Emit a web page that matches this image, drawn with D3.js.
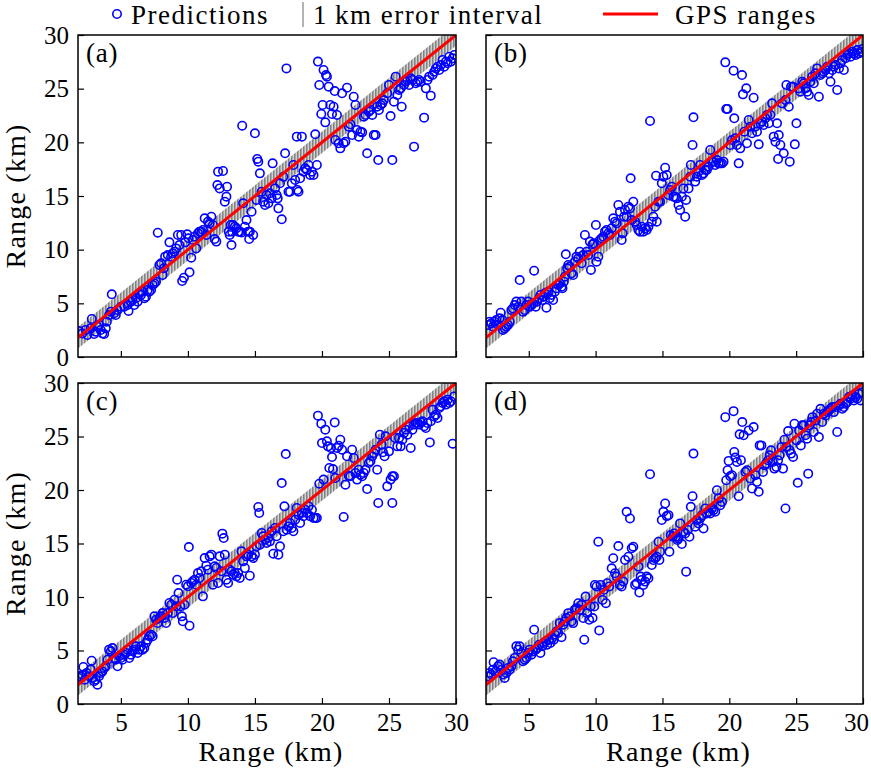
<!DOCTYPE html>
<html>
<head>
<meta charset="utf-8">
<script src="https://cdn.jsdelivr.net/npm/d3@7"></script>
<style>
  html, body { margin: 0; padding: 0; background: #fff; }
</style>
</head>
<body>
<svg id="chart" width="871" height="771"></svg>
<script>
// ---------------- data ----------------
const panelLabels = ["(a)", "(b)", "(c)", "(d)"];
const xTicks = [5, 10, 15, 20, 25, 30];
const yTicks = [0, 5, 10, 15, 20, 25, 30];
const xDomain = [1.8, 30];
const yDomain = [0, 30];
const errorHalfWidth = 1; // km
const axisLabel = "Range (km)";
const legendLabels = ["Predictions", "1\u2009km error interval", "GPS ranges"];

// [GPS range (km), predicted range (km)]
const predictionsA = [
[1.87,2.42],[2.12,2.2],[2.37,2.52],[2.5,2.05],[2.75,2.67],[2.83,3.54],[3.0,2.14],[3.12,2.36],[3.25,2.83],[3.37,2.98],
[3.5,2.52],[3.62,2.2],[3.75,2.14],[3.87,2.67],[3.95,3.29],[4.12,3.91],[4.25,4.22],[4.32,5.84],[4.5,4.07],[4.62,3.91],
[4.75,4.38],[5.0,4.69],[5.25,4.69],[5.5,4.84],[5.57,4.29],[5.75,5.16],[5.87,5.31],[6.0,4.84],[6.12,5.47],[6.25,5.16],
[6.37,5.93],[6.5,5.78],[6.62,6.09],[6.75,5.47],[6.87,5.62],[7.0,6.24],[7.12,6.09],[7.25,6.24],[7.37,6.71],[7.5,6.86],
[7.62,7.02],[7.75,11.58],[7.87,8.57],[8.0,8.73],[8.12,7.64],[8.2,8.26],[8.3,9.35],[8.5,9.5],[8.62,10.68],[8.75,9.35],
[8.87,9.66],[9.0,9.81],[9.12,10.12],[9.25,11.37],[9.37,10.43],[9.5,11.37],[9.57,7.08],[9.7,7.39],[9.8,10.68],[9.95,11.43],
[10.05,11.06],[10.12,7.89],[10.25,9.25],[10.37,10.9],[10.5,11.21],[10.62,10.12],[10.75,11.52],[10.87,11.68],[11.0,11.68],[11.12,11.83],
[11.25,12.92],[11.37,11.37],[11.5,12.61],[11.62,12.45],[11.75,13.07],[11.87,12.3],[12.0,10.99],[12.12,10.75],[12.2,16.02],[12.25,17.27],
[12.37,15.71],[12.62,17.33],[12.75,14.47],[12.87,14.94],[12.92,15.87],[13.05,11.68],[13.12,11.37],[13.2,12.3],[13.25,10.43],[13.3,11.68],
[13.37,12.3],[13.5,12.14],[13.62,11.99],[13.75,11.68],[13.87,11.68],[14.0,11.61],[14.05,21.55],[14.12,14.32],[14.25,12.14],[14.37,12.76],
[14.5,11.68],[14.57,10.99],[14.62,11.68],[14.75,13.54],[14.87,11.37],[15.0,20.84],[15.12,14.63],[15.17,18.45],[15.25,18.2],[15.37,17.11],
[15.5,15.4],[15.62,14.47],[15.75,14.16],[15.87,15.09],[16.0,14.32],[16.12,15.25],[16.25,14.78],[16.32,18.04],[16.5,15.71],[16.62,15.09],
[16.7,14.78],[16.75,13.85],[16.87,16.18],[17.0,12.83],[17.12,16.8],[17.25,18.98],[17.35,26.89],[17.5,15.4],[17.62,15.4],[17.75,16.18],
[17.87,17.89],[18.0,16.49],[18.12,20.53],[18.17,15.56],[18.25,15.4],[18.37,16.65],[18.5,20.53],[18.62,17.27],[18.75,17.58],[18.87,17.42],
[19.0,17.89],[19.12,16.96],[19.25,17.27],[19.37,16.96],[19.5,20.75],[19.62,17.89],[19.7,27.52],[19.8,25.34],[19.95,22.64],[20.05,23.48],
[20.12,26.74],[20.25,21.86],[20.3,26.27],[20.37,26.12],[20.5,25.19],[20.62,23.48],[20.75,22.64],[20.87,23.32],[20.95,24.78],[21.0,20.22],
[21.12,22.55],[21.25,19.91],[21.37,19.44],[21.5,24.57],[21.62,19.91],[21.75,20.06],[21.87,25.09],[22.0,21.46],[22.12,21.68],[22.25,20.68],
[22.37,24.25],[22.5,23.48],[22.62,21.15],[22.75,20.53],[22.87,20.99],[23.0,20.93],[23.12,22.39],[23.25,22.55],[23.37,18.98],[23.5,22.86],
[23.62,23.01],[23.75,22.55],[23.87,20.68],[24.0,20.68],[24.12,23.32],[24.2,18.35],[24.25,23.01],[24.37,23.48],[24.5,23.63],[24.62,23.94],
[24.87,24.57],[25.0,25.34],[25.12,22.45],[25.25,18.35],[25.37,23.79],[25.5,26.12],[25.62,24.41],[25.75,24.88],[25.87,25.03],[25.95,23.32],
[26.12,25.34],[26.25,25.65],[26.37,25.81],[26.5,25.34],[26.62,25.96],[26.75,25.81],[26.87,19.6],[27.0,25.5],[27.12,25.65],[27.25,25.81],
[27.37,25.65],[27.62,22.3],[27.75,25.03],[27.87,25.81],[28.0,26.12],[28.12,24.35],[28.25,26.27],[28.37,26.58],[28.5,26.89],[28.62,27.05],
[28.75,26.74],[28.87,27.2],[29.0,27.67],[29.12,27.05],[29.25,27.52],[29.37,27.36],[29.5,27.98],[29.62,27.52],[29.75,27.83],[29.87,28.14]
];

const predictionsB = [
[1.95,2.98],[2.07,3.29],[2.2,3.14],[2.32,2.83],[2.45,3.29],[2.57,3.45],[2.7,2.98],[2.82,3.6],[2.9,4.13],[3.02,3.45],
[3.07,2.52],[3.2,2.67],[3.32,2.83],[3.45,2.98],[3.57,3.29],[3.7,4.38],[3.82,4.53],[3.95,4.84],[4.07,5.16],[4.2,4.69],
[4.32,7.17],[4.45,5.16],[4.57,4.22],[4.7,4.38],[4.82,4.84],[4.95,5.16],[5.07,4.69],[5.2,4.84],[5.32,5.0],[5.4,8.04],
[5.52,4.69],[5.62,5.16],[5.77,5.47],[5.87,5.78],[6.02,5.31],[6.12,5.62],[6.2,5.93],[6.32,4.6],[6.45,6.09],[6.57,5.47],
[6.7,5.78],[6.82,5.31],[6.95,6.09],[7.07,6.4],[7.2,6.71],[7.32,6.86],[7.45,6.55],[7.52,6.4],[7.62,7.02],[7.7,7.48],
[7.77,9.57],[7.87,8.26],[7.95,8.57],[8.07,8.42],[8.2,7.8],[8.32,7.64],[8.45,8.88],[8.57,9.35],[8.7,9.19],[8.82,9.81],
[8.95,8.73],[9.07,9.5],[9.2,11.37],[9.32,9.81],[9.45,9.5],[9.57,10.75],[9.65,8.11],[9.77,10.5],[9.87,10.59],[10.02,12.3],
[10.07,8.88],[10.2,9.35],[10.32,10.9],[10.45,11.06],[10.57,11.21],[10.7,11.68],[10.82,11.83],[10.95,11.52],[11.07,11.37],[11.2,11.99],
[11.32,12.92],[11.45,12.61],[11.57,12.45],[11.7,14.16],[11.82,13.54],[11.95,10.9],[12.02,11.52],[12.12,13.07],[12.2,13.7],[12.32,13.07],
[12.45,14.01],[12.57,13.85],[12.62,16.65],[12.7,12.76],[12.82,14.47],[12.95,12.61],[13.07,12.3],[13.2,11.83],[13.32,11.68],[13.45,12.14],
[13.57,11.68],[13.7,11.99],[13.82,11.83],[13.95,12.14],[14.07,21.99],[14.2,12.61],[14.32,13.07],[14.45,14.01],[14.52,16.89],[14.57,12.61],
[14.7,14.47],[14.82,14.47],[14.95,16.18],[15.07,16.8],[15.2,17.64],[15.32,16.96],[15.45,15.09],[15.57,15.56],[15.7,15.87],[15.82,14.94],
[15.95,14.94],[16.07,14.78],[16.2,14.16],[16.32,13.7],[16.45,14.94],[16.57,15.71],[16.7,13.07],[16.77,14.63],[16.95,15.71],[17.07,16.8],
[17.12,17.89],[17.25,19.75],[17.32,22.33],[17.45,16.34],[17.57,16.8],[17.7,17.27],[17.82,17.89],[17.95,16.96],[18.07,17.11],[18.2,17.42],
[18.32,17.42],[18.45,17.73],[18.57,19.29],[18.7,18.2],[18.82,18.2],[18.95,17.89],[19.07,18.35],[19.2,18.04],[19.32,18.04],[19.45,18.04],
[19.57,18.2],[19.7,27.45],[19.77,23.11],[19.87,23.11],[20.07,19.75],[20.2,20.22],[20.32,26.68],[20.37,22.24],[20.45,20.37],[20.57,19.75],
[20.7,18.04],[20.82,19.44],[20.95,26.27],[21.02,24.47],[21.12,20.99],[21.27,25.03],[21.32,19.91],[21.45,22.08],[21.57,21.46],[21.7,20.84],
[21.82,24.16],[21.95,21.46],[22.07,20.99],[22.2,19.81],[22.32,21.77],[22.45,21.93],[22.57,21.61],[22.7,22.24],[22.82,22.55],[22.95,21.77],
[23.07,22.55],[23.2,23.63],[23.32,20.53],[23.45,20.06],[23.57,21.77],[23.65,18.45],[23.7,20.68],[23.82,19.75],[23.95,23.63],[24.07,18.98],
[24.2,23.94],[24.27,25.34],[24.45,23.32],[24.52,18.2],[24.62,25.19],[24.77,25.19],[24.9,19.81],[25.02,21.77],[25.2,25.03],[25.32,24.72],
[25.45,25.65],[25.57,25.5],[25.7,25.03],[25.82,24.72],[25.95,24.41],[26.07,25.65],[26.2,26.12],[26.32,25.5],[26.45,26.43],[26.57,26.89],
[26.7,24.25],[26.82,26.27],[26.95,26.43],[27.07,26.58],[27.2,26.74],[27.32,27.05],[27.45,26.43],[27.57,25.65],[27.7,26.74],[27.82,27.05],
[27.95,27.2],[28.07,24.88],[28.2,26.89],[28.32,27.36],[28.45,27.67],[28.57,26.74],[28.7,27.83],[28.82,28.14],[28.95,28.29],[29.07,27.98],
[29.2,28.45],[29.32,28.29],[29.45,28.14],[29.57,28.6],[29.7,28.29],[29.82,28.45],[29.95,28.7]
];

const predictionsC = [
[1.87,2.43],[2.0,2.59],[2.12,2.74],[2.2,3.46],[2.3,2.27],[2.45,2.9],[2.62,2.59],[2.75,3.21],[2.82,4.05],[2.87,2.43],
[3.0,2.12],[3.12,2.27],[3.25,1.81],[3.37,2.59],[3.5,2.9],[3.62,3.05],[3.75,3.37],[3.87,3.52],[4.0,4.14],[4.12,5.08],
[4.25,4.92],[4.37,5.23],[4.5,4.3],[4.62,4.14],[4.75,3.52],[4.87,4.46],[5.0,4.3],[5.12,4.14],[5.25,4.61],[5.37,4.77],
[5.5,5.08],[5.62,4.3],[5.75,4.61],[5.87,4.92],[6.0,5.08],[6.12,5.39],[6.25,4.77],[6.37,5.08],[6.5,5.39],[6.62,5.08],
[6.75,5.23],[6.87,5.7],[7.0,6.01],[7.12,6.33],[7.25,6.48],[7.37,6.33],[7.5,8.19],[7.62,7.88],[7.75,7.57],[7.87,8.04],
[8.0,8.19],[8.12,8.5],[8.25,8.04],[8.37,7.57],[8.5,8.5],[8.62,9.44],[8.75,9.28],[8.87,8.5],[9.0,9.75],[9.12,9.13],
[9.2,11.62],[9.3,10.37],[9.45,9.13],[9.55,8.19],[9.62,7.73],[9.75,9.28],[9.87,11.15],[10.0,11.0],[10.12,7.32],[10.07,14.67],
[10.25,11.31],[10.37,11.47],[10.5,11.62],[10.62,11.15],[10.75,12.24],[10.87,11.78],[11.0,12.4],[11.12,10.06],[11.25,13.64],[11.37,12.93],
[11.5,12.55],[11.62,13.8],[11.75,13.96],[11.87,11.15],[12.0,12.87],[12.12,12.71],[12.25,11.31],[12.37,13.8],[12.5,12.4],[12.57,15.92],
[12.67,15.51],[12.75,13.96],[12.87,11.62],[13.0,11.31],[13.12,12.55],[13.25,12.4],[13.37,12.09],[13.5,12.24],[13.62,11.93],[13.75,12.24],
[13.87,11.78],[14.0,14.27],[14.12,13.33],[14.25,12.71],[14.37,13.8],[14.5,13.96],[14.62,11.99],[14.75,13.8],[14.87,13.64],[15.0,13.96],
[15.12,14.74],[15.25,18.41],[15.32,17.85],[15.37,14.89],[15.5,15.98],[15.62,15.67],[15.75,15.36],[15.87,15.05],[16.0,15.51],[16.12,15.2],
[16.25,16.14],[16.37,14.05],[16.5,16.45],[16.62,15.67],[16.75,13.96],[16.87,14.74],[17.0,20.65],[17.12,16.14],[17.2,18.47],[17.3,23.36],
[17.37,16.29],[17.5,16.6],[17.62,16.92],[17.75,16.45],[17.87,16.14],[18.0,17.23],[18.12,18.32],[18.25,17.7],[18.37,16.92],[18.5,17.85],
[18.62,17.54],[18.75,18.16],[18.87,17.85],[19.0,18.47],[19.12,17.54],[19.25,18.16],[19.37,17.38],[19.5,17.38],[19.62,17.38],[19.7,26.95],
[19.8,20.59],[19.95,26.2],[20.0,24.39],[20.12,20.97],[20.25,25.64],[20.37,24.55],[20.45,24.08],[20.55,22.06],[20.67,23.93],[20.75,23.08],
[20.82,21.96],[20.95,26.32],[21.0,21.12],[21.12,23.93],[21.25,24.14],[21.37,24.7],[21.5,23.77],[21.62,17.48],[21.75,20.5],[21.87,23.15],
[22.0,21.34],[22.12,21.28],[22.25,23.77],[22.37,22.99],[22.5,21.59],[22.62,20.97],[22.75,21.9],[22.87,21.43],[23.0,21.28],[23.12,21.59],
[23.25,21.9],[23.37,20.09],[23.5,22.52],[23.62,22.68],[23.75,23.15],[23.87,23.46],[24.0,23.77],[24.12,21.9],[24.2,18.79],[24.32,25.17],
[24.45,24.24],[24.55,23.52],[24.67,23.15],[24.75,25.02],[24.87,20.34],[25.0,23.61],[25.12,20.97],[25.25,21.28],[25.25,18.79],[25.37,21.28],
[25.45,24.86],[25.62,24.08],[25.75,24.86],[25.87,24.08],[26.0,24.7],[26.12,25.33],[26.25,25.64],[26.37,25.17],[26.5,25.95],[26.62,23.93],
[26.75,25.64],[26.87,26.11],[27.0,26.26],[27.12,26.26],[27.25,26.11],[27.37,26.32],[27.5,26.42],[27.62,25.95],[27.75,25.79],[27.87,26.26],
[28.05,24.45],[28.12,26.42],[28.25,27.51],[28.37,26.88],[28.5,27.04],[28.62,26.73],[28.75,27.66],[28.87,27.82],[29.0,28.13],[29.12,28.29],
[29.25,27.98],[29.37,28.44],[29.5,28.13],[29.62,28.29],[29.75,24.33],[29.87,28.75]
];

const predictionsD = [
[1.95,2.59],[2.07,2.9],[2.2,2.75],[2.32,3.21],[2.37,3.9],[2.52,3.06],[2.7,3.52],[2.82,3.68],[2.95,3.21],[3.07,2.75],
[3.2,2.44],[3.32,2.9],[3.45,3.37],[3.57,3.21],[3.7,3.52],[3.82,3.99],[3.95,4.3],[4.07,5.39],[4.2,5.08],[4.32,5.39],
[4.45,4.77],[4.57,3.99],[4.7,4.14],[4.82,4.3],[4.95,4.77],[5.07,5.08],[5.2,4.61],[5.32,4.92],[5.4,6.94],[5.52,5.08],
[5.62,5.23],[5.77,5.54],[5.87,4.77],[6.02,5.39],[6.12,5.7],[6.27,5.85],[6.37,5.54],[6.52,6.01],[6.62,5.7],[6.77,6.17],
[6.87,6.01],[6.95,6.48],[7.07,6.78],[7.2,6.63],[7.32,7.56],[7.45,6.25],[7.57,7.41],[7.7,7.72],[7.82,8.03],[7.95,8.49],
[8.07,8.18],[8.2,7.72],[8.32,7.56],[8.45,8.8],[8.57,8.96],[8.7,9.42],[8.82,8.8],[8.95,9.27],[9.07,8.03],[9.15,6.01],
[9.25,10.04],[9.37,8.49],[9.52,7.87],[9.62,9.11],[9.77,8.03],[9.9,9.11],[9.95,11.13],[10.07,10.98],[10.2,15.17],[10.27,6.88],
[10.37,11.13],[10.52,9.73],[10.62,10.67],[10.77,9.42],[10.87,11.29],[11.02,10.98],[11.2,12.68],[11.32,13.62],[11.45,12.22],[11.57,11.91],
[11.7,14.76],[11.82,11.13],[11.95,10.98],[12.07,11.44],[12.2,13.46],[12.32,17.96],[12.45,13.77],[12.57,17.34],[12.7,14.55],[12.82,14.7],
[12.95,11.13],[13.07,11.29],[13.2,12.84],[13.27,10.42],[13.37,11.91],[13.45,11.6],[13.57,11.13],[13.7,11.44],[13.82,11.91],[13.95,11.75],
[14.07,21.47],[14.2,12.99],[14.32,13.46],[14.45,13.62],[14.57,13.77],[14.7,15.17],[14.77,13.46],[14.82,14.24],[14.95,17.19],[15.07,17.96],
[15.2,18.74],[15.32,17.56],[15.45,17.65],[15.52,14.24],[15.62,15.79],[15.77,15.63],[15.87,15.94],[16.0,15.63],[16.12,15.32],[16.2,15.48],
[16.32,16.88],[16.45,14.95],[16.57,16.1],[16.7,15.94],[16.77,12.37],[16.9,16.26],[17.02,15.63],[17.12,18.43],[17.25,19.42],[17.32,23.4],
[17.45,16.57],[17.57,17.19],[17.7,16.88],[17.82,17.34],[17.95,17.65],[18.07,16.41],[18.2,18.27],[18.32,17.81],[18.45,17.96],[18.57,17.81],
[18.7,18.27],[18.82,18.12],[18.95,17.96],[19.07,19.98],[19.2,19.21],[19.32,18.58],[19.45,18.89],[19.7,26.81],[19.77,20.91],[19.87,21.85],
[19.95,22.72],[20.07,21.29],[20.2,21.38],[20.32,27.37],[20.37,23.55],[20.45,23.03],[20.57,22.62],[20.7,19.42],[20.77,25.2],[20.87,22.78],
[20.97,26.35],[21.07,25.11],[21.2,21.69],[21.32,21.85],[21.45,25.57],[21.57,21.07],[21.7,20.14],[21.82,25.88],[21.95,21.38],[22.07,20.76],
[22.2,19.83],[22.27,24.17],[22.4,24.17],[22.52,21.69],[22.65,22.31],[22.77,22.47],[22.9,22.78],[23.02,23.24],[23.12,23.71],[23.25,22.62],
[23.37,22.0],[23.52,22.16],[23.65,22.78],[23.77,23.24],[23.9,24.02],[24.02,22.0],[24.12,24.7],[24.2,18.27],[24.27,24.02],[24.4,25.51],
[24.52,23.71],[24.62,23.4],[24.77,23.09],[24.87,26.19],[25.02,24.64],[25.12,20.67],[25.22,25.57],[25.35,24.17],[25.45,26.04],[25.57,26.04],
[25.7,25.11],[25.82,24.8],[25.9,21.53],[26.0,26.04],[26.12,26.35],[26.22,26.81],[26.32,25.42],[26.45,26.5],[26.57,27.13],[26.7,24.95],
[26.82,27.59],[26.95,26.35],[27.07,27.13],[27.2,26.97],[27.32,27.28],[27.45,27.44],[27.57,27.59],[27.7,27.75],[27.82,27.28],[27.95,27.75],
[28.07,25.42],[28.2,27.9],[28.32,28.06],[28.45,27.59],[28.57,27.75],[28.7,28.06],[28.82,28.21],[28.95,28.68],[29.07,28.52],[29.2,28.83],
[29.32,28.37],[29.45,28.68],[29.57,28.52],[29.7,28.99],[29.82,28.37],[29.95,29.14]
];

const panelData = [predictionsA, predictionsB, predictionsC, predictionsD];

// ---------------- layout ----------------
const FONT = "'Liberation Serif', 'Times New Roman', 'DejaVu Serif', serif";
const panels = [
  { left: 78,  right: 456, top: 35,  bottom: 357, showY: true,  showX: false },
  { left: 486, right: 863, top: 35,  bottom: 357, showY: false, showX: false },
  { left: 78,  right: 456, top: 383, bottom: 704, showY: true,  showX: true  },
  { left: 486, right: 863, top: 383, bottom: 704, showY: false, showX: true  }
];

const svg = d3.select("#chart").attr("font-family", FONT);
const defs = svg.append("defs");

const pat = defs.append("pattern")
  .attr("id", "hatch").attr("patternUnits", "userSpaceOnUse")
  .attr("width", 3).attr("height", 10);
pat.append("rect").attr("width", 3).attr("height", 10).attr("fill", "#d2d2d2");
pat.append("line").attr("x1", 0.8).attr("x2", 0.8).attr("y1", 0).attr("y2", 10)
  .attr("stroke", "#747474").attr("stroke-width", 1.3);

const blue = "#0000ff", red = "#ff0000";
const fontTick = 25, fontLabel = 28, spacing = 1.2;

panels.forEach((p, i) => {
  const x = d3.scaleLinear().domain(xDomain).range([p.left, p.right]);
  const y = d3.scaleLinear().domain(yDomain).range([p.bottom, p.top]);
  const g = svg.append("g");

  defs.append("clipPath").attr("id", "clip" + i)
    .append("rect").attr("x", p.left).attr("y", p.top)
    .attr("width", p.right - p.left).attr("height", p.bottom - p.top);

  const plot = g.append("g").attr("clip-path", `url(#clip${i})`);

  // error band
  const bandX = [xDomain[0] - 1, xDomain[1] + 1];
  const area = d3.area()
    .x(d => x(d))
    .y0(d => y(d - errorHalfWidth))
    .y1(d => y(d + errorHalfWidth));
  plot.append("path").datum(bandX).attr("d", area).attr("fill", "url(#hatch)");

  // predictions
  plot.selectAll("circle").data(panelData[i]).join("circle")
    .attr("cx", d => x(d[0])).attr("cy", d => y(d[1]))
    .attr("r", 4.2).attr("fill", "none")
    .attr("stroke", blue).attr("stroke-width", 1.6);

  // GPS ranges line
  const line = d3.line().x(d => x(d)).y(d => y(d));
  plot.append("path").datum(xDomain).attr("d", line)
    .attr("fill", "none").attr("stroke", red).attr("stroke-width", 3);

  // axes
  const xAxis = d3.axisBottom(x).tickValues(xTicks).tickSizeInner(-6).tickSizeOuter(0)
    .tickPadding(9).tickFormat(p.showX ? d3.format("d") : () => "");
  const gx = g.append("g").attr("transform", `translate(0,${p.bottom})`).call(xAxis);
  const yAxis = d3.axisLeft(y).tickValues(yTicks).tickSizeInner(-6).tickSizeOuter(0)
    .tickPadding(9).tickFormat(p.showY ? d3.format("d") : () => "");
  const gy = g.append("g").attr("transform", `translate(${p.left},0)`).call(yAxis);
  [gx, gy].forEach(a => {
    a.attr("font-family", FONT).attr("font-size", fontTick);
    a.select(".domain").remove();
    a.selectAll(".tick line").attr("stroke", "#000").attr("stroke-width", 1.2);
    a.selectAll(".tick text").attr("font-size", fontTick)
      .attr("font-family", FONT).attr("fill", "#000");
  });
  // keep the last x label of the right column inside the page
  if (p.showX && p.right > 800) {
    gx.selectAll(".tick text").filter(d => d === xTicks[xTicks.length - 1]).attr("dx", -7);
  }

  // frame
  g.append("rect").attr("x", p.left).attr("y", p.top)
    .attr("width", p.right - p.left).attr("height", p.bottom - p.top)
    .attr("fill", "none").attr("stroke", "#000").attr("stroke-width", 1.5);

  // panel label
  g.append("text").attr("x", p.left + 8).attr("y", p.top + 27)
    .attr("font-family", FONT).attr("font-size", 27)
    .attr("letter-spacing", 0.8).text(panelLabels[i]);

  if (p.showX) {
    g.append("text").attr("x", (p.left + p.right) / 2 + 4).attr("y", 761)
      .attr("font-family", FONT).attr("letter-spacing", spacing)
      .attr("text-anchor", "middle").attr("font-size", fontLabel).text(axisLabel);
  }
  if (p.showY) {
    const cy = (p.top + p.bottom) / 2;
    g.append("text").attr("transform", `translate(25,${cy}) rotate(-90)`)
      .attr("font-family", FONT).attr("letter-spacing", spacing)
      .attr("text-anchor", "middle").attr("font-size", fontLabel).text(axisLabel);
  }
});

// ---------------- legend ----------------
const lg = svg.append("g").attr("font-family", FONT);
const legendFont = 27, legendBase = 24, legendSpacing = 1.5;
lg.append("circle").attr("cx", 117).attr("cy", 14).attr("r", 4.2)
  .attr("fill", "none").attr("stroke", blue).attr("stroke-width", 1.6);
lg.append("text").attr("x", 131).attr("y", legendBase).attr("font-size", legendFont)
  .attr("letter-spacing", legendSpacing).text(legendLabels[0]);
lg.append("line").attr("x1", 303).attr("x2", 303).attr("y1", 2).attr("y2", 27)
  .attr("stroke", "#808080").attr("stroke-width", 1.2);
lg.append("text").attr("x", 313).attr("y", legendBase).attr("font-size", legendFont)
  .attr("letter-spacing", legendSpacing).text(legendLabels[1]);
lg.append("line").attr("x1", 603).attr("x2", 658).attr("y1", 14).attr("y2", 14)
  .attr("stroke", red).attr("stroke-width", 3);
lg.append("text").attr("x", 675).attr("y", legendBase).attr("font-size", legendFont)
  .attr("letter-spacing", legendSpacing).text(legendLabels[2]);
</script>
</body>
</html>
